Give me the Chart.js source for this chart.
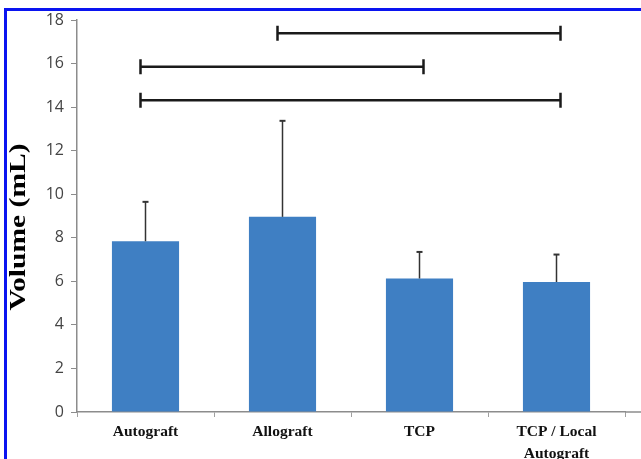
<!DOCTYPE html>
<html>
<head>
<meta charset="utf-8">
<script src="https://cdn.jsdelivr.net/npm/chart.js@4/dist/chart.umd.min.js"></script>
<style>
    html, body { margin: 0; padding: 0; background: #fff; }
    #kutu { width: 641px; height: 459px; position: relative; }
</style>
</head>
<body>
<div id="kutu"><canvas id="grafik" width="641" height="459"></canvas></div>
<script>
// Veriler
const gruplar = ['Autograft', 'Allograft', 'TCP', ['TCP / Local', 'Autograft']];
const hacimler = [7.84, 8.96, 6.13, 5.97];
const sapmalar = [1.81, 4.41, 1.22, 1.26];
const yTikler = [0, 2, 4, 6, 8, 10, 12, 14, 16, 18];
const yBaslik = 'Volume (mL)';
// Anlamlılık çizgileri: başlangıç grubu, bitiş grubu, yükseklik
const baslangicGruplari = [1, 0, 0];
const bitisGruplari = [3, 2, 3];
const cizgiYukseklikleri = [17.39, 15.85, 14.32];

// Hata çubukları, anlamlılık çizgileri, eksen başlığı
const ekCizimler = {
    id: 'ekCizimler',
    beforeDraw(chart) {
        const ctx = chart.ctx;
        ctx.save();
        ctx.fillStyle = '#fff';
        ctx.fillRect(0, 0, chart.width, chart.height);
        ctx.restore();
    },
    afterDatasetsDraw(chart) {
        const ctx = chart.ctx;
        const x = chart.scales.x;
        const y = chart.scales.y;
        ctx.save();

        // hata çubukları (sadece üst)
        ctx.strokeStyle = '#333';
        hacimler.forEach((h, i) => {
            const px = x.getPixelForValue(i);
            const y0 = y.getPixelForValue(h);
            const y1 = y.getPixelForValue(h + sapmalar[i]);
            ctx.lineWidth = 1.5;
            ctx.beginPath();
            ctx.moveTo(px, y0);
            ctx.lineTo(px, y1);
            ctx.stroke();
            ctx.lineWidth = 2;
            ctx.beginPath();
            ctx.moveTo(px - 3, y1);
            ctx.lineTo(px + 3, y1);
            ctx.stroke();
        });

        // anlamlılık çizgileri
        ctx.strokeStyle = '#1a1a1a';
        ctx.lineWidth = 2.5;
        cizgiYukseklikleri.forEach((v, i) => {
            const x0 = x.getPixelForValue(baslangicGruplari[i]) - 5;
            const x1 = x.getPixelForValue(bitisGruplari[i]) + 4;
            const py = y.getPixelForValue(v);
            ctx.beginPath();
            ctx.moveTo(x0, py);
            ctx.lineTo(x1, py);
            ctx.moveTo(x0, py - 7.5);
            ctx.lineTo(x0, py + 7.5);
            ctx.moveTo(x1, py - 7.5);
            ctx.lineTo(x1, py + 7.5);
            ctx.stroke();
        });
        ctx.restore();
    },
    afterDraw(chart) {
        const ctx = chart.ctx;
        const alan = chart.chartArea;
        ctx.save();
        // x ekseni sağa uzanıyor
        ctx.strokeStyle = '#8c8c8c';
        ctx.lineWidth = 1.5;
        ctx.beginPath();
        ctx.moveTo(alan.right, alan.bottom);
        ctx.lineTo(chart.width, alan.bottom);
        ctx.stroke();

        // y ekseni başlığı (yatayda biraz gerilmiş)
        ctx.font = 'bold 24px "Liberation Serif", "Times New Roman", serif';
        ctx.fillStyle = '#000';
        ctx.textAlign = 'center';
        ctx.textBaseline = 'middle';
        const genislik = ctx.measureText(yBaslik).width;
        ctx.translate(19, 227);
        ctx.rotate(-Math.PI / 2);
        ctx.scale(167 / genislik, 1);
        ctx.fillText(yBaslik, 0, 0);
        ctx.setTransform(1, 0, 0, 1, 0, 0);

        // mavi çerçeve
        ctx.fillStyle = '#0a14f0';
        ctx.fillRect(4, 8, chart.width - 4, 3);
        ctx.fillRect(4, 8, 3, chart.height - 8);
        ctx.restore();
    }
};

const ctx = document.getElementById('grafik').getContext('2d');
new Chart(ctx, {
    type: 'bar',
    data: {
        labels: gruplar,
        datasets: [{
            data: hacimler,
            backgroundColor: '#3f7fc3',
            barPercentage: 0.49,
            categoryPercentage: 1
        }]
    },
    options: {
        responsive: false,
        animation: false,
        events: [],
        layout: { padding: { left: 0, top: 20, right: 16, bottom: 0 } },
        plugins: {
            legend: { display: false },
            tooltip: { enabled: false }
        },
        scales: {
            x: {
                afterFit: (s) => { s.height = 47; },
                grid: {
                    drawOnChartArea: false,
                    offset: true,
                    tickLength: 5,
                    color: '#a0a0a0'
                },
                border: { color: '#8c8c8c', width: 1.5 },
                ticks: {
                    color: '#111',
                    padding: 4,
                    maxRotation: 0,
                    font: { family: '"Liberation Serif", "Times New Roman", serif', size: 15.5, weight: 'bold', lineHeight: 1.4 }
                }
            },
            y: {
                min: 0,
                max: 18,
                afterFit: (s) => { s.width = 77; },
                afterBuildTicks: (s) => { s.ticks = yTikler.map(v => ({ value: v })); },
                grid: {
                    drawOnChartArea: false,
                    tickLength: 6,
                    color: '#8c8c8c'
                },
                border: { color: '#8c8c8c', width: 1.5 },
                ticks: {
                    color: '#444',
                    padding: 7,
                    font: { family: '"Open Sans", "Noto Sans", sans-serif', size: 16 }
                }
            }
        }
    },
    plugins: [ekCizimler]
});
</script>
</body>
</html>
